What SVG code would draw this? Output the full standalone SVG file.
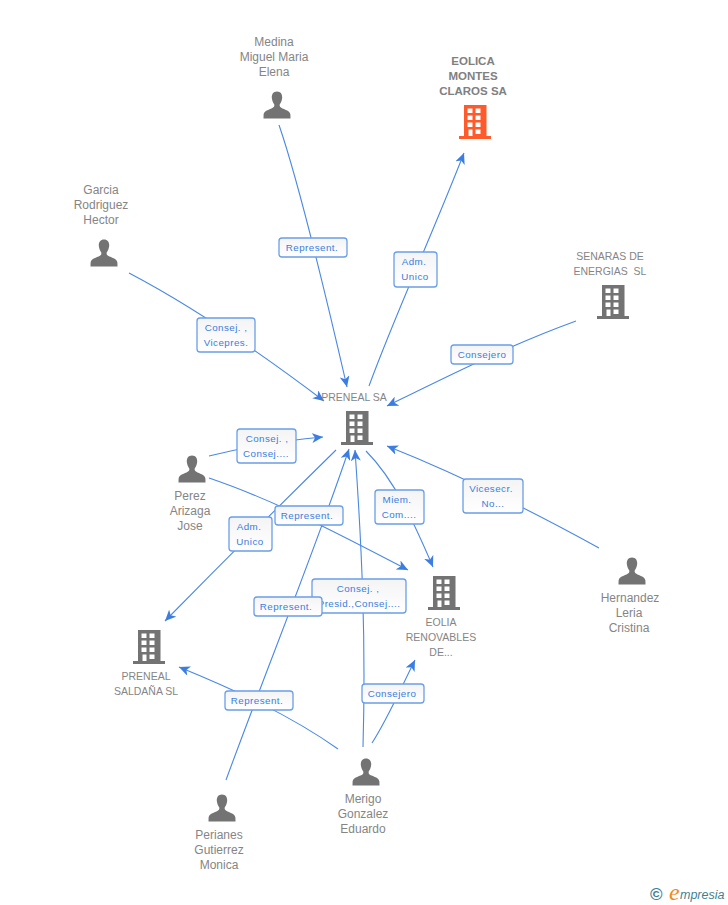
<svg xmlns="http://www.w3.org/2000/svg" width="728" height="905" viewBox="0 0 728 905">
<style>
text{font-family:"Liberation Sans",Arial,sans-serif}
.n{font-size:12px;fill:#858585;text-anchor:middle}
.b{font-weight:bold;fill:#808080;font-size:11.5px;text-anchor:middle}
.s{font-size:10.5px;fill:#858585;text-anchor:middle}
.l{font-size:9.8px;fill:#3b7de0;text-anchor:middle;letter-spacing:.45px}
.r{fill:url(#g);stroke:#6a9fe8;stroke-width:1.3}
.c{fill:none;stroke:#4a88e4;stroke-width:1.1}
</style>
<defs>
<linearGradient id="g" x1="0" y1="0" x2="0" y2="1"><stop offset="0" stop-color="#f4f4f4"/><stop offset="1" stop-color="#fff"/></linearGradient>
<marker id="a" viewBox="0 0 12 10" refX="11" refY="5" markerWidth="12" markerHeight="10" markerUnits="userSpaceOnUse" orient="auto"><path d="M0 0L11 5L0 10L3 5Z" fill="#3b7de0"/></marker>
<symbol id="p" width="28" height="28" viewBox="0 0 28 28" overflow="visible"><path d="M14 0.5C10.3 0.5 8.6 3.4 8.8 6.8C9 9.8 10.3 12 11.3 13.6C11.6 15.6 11 16.4 8.5 17.5C4.5 19.2 1.3 19.8 0.6 23.5L0.5 27.500H27.500L27.400 23.500C26.700 19.800 23.500 19.200 19.500 17.500C17 16.400 16.400 15.600 16.700 13.600C17.700 12 19 9.800 19.200 6.800C19.400 3.400 17.700 0.500 14 0.500Z" fill="#737373"/></symbol>
<symbol id="h" width="32" height="34" viewBox="0 0 32 34" overflow="visible"><path d="M5 0H27.500V31H32V34H0V31H5ZM8.500 3.500V8H13.500V3.500ZM16.500 3.500V8H21.500V3.500ZM8.500 10.500V15H13.500V10.500ZM16.500 10.500V15H21.500V10.500ZM8.500 17.500V22H13.500V17.500ZM16.500 17.500V22H21.500V17.500ZM9.500 24.500V31H13.500V24.500ZM16.500 24.500V29H21.500V24.500Z" fill="currentColor" fill-rule="evenodd"/></symbol>
</defs>
<g id="connectors">
<path class="c" d="M279 125C298 180 320 270 347 387" marker-end="url(#a)"/>
<path class="c" d="M369 386C395 315 430 240 464 153" marker-end="url(#a)"/>
<path class="c" d="M129 273C190 305 250 345 324 401" marker-end="url(#a)"/>
<path class="c" d="M576 321C510 345 450 375 387 406" marker-end="url(#a)"/>
<path class="c" d="M209 456C245 447 280 441 323 437" marker-end="url(#a)"/>
<path class="c" d="M209 478C280 502 350 540 408 570" marker-end="url(#a)"/>
<path class="c" d="M336 450C280 505 220 565 165 621" marker-end="url(#a)"/>
<path class="c" d="M226 780C270 660 315 550 349 449" marker-end="url(#a)"/>
<path class="c" d="M363 747C366 640 362 550 355 450" marker-end="url(#a)"/>
<path class="c" d="M366 451C395 480 415 525 433 567" marker-end="url(#a)"/>
<path class="c" d="M599 548C530 510 460 475 387 446" marker-end="url(#a)"/>
<path class="c" d="M338 749C290 715 235 690 179 667" marker-end="url(#a)"/>
<path class="c" d="M372 743C387 720 400 690 415 660" marker-end="url(#a)"/>
</g>
<g id="edge-labels">
<g><rect class="r" x="279" y="238" width="68" height="19" rx="3"/><text class="l" x="312" y="251">Represent.</text></g>
<g><rect class="r" x="394" y="252" width="43" height="35" rx="3"/><text class="l" x="414" y="265">Adm.</text><text class="l" x="415" y="280">Unico</text></g>
<g><rect class="r" x="197" y="318" width="58" height="34" rx="3"/><text class="l" x="226" y="331">Consej. ,</text><text class="l" x="226" y="346">Vicepres.</text></g>
<g><rect class="r" x="451" y="345" width="62" height="19" rx="3"/><text class="l" x="482" y="358">Consejero</text></g>
<g><rect class="r" x="237" y="429" width="59" height="34" rx="3"/><text class="l" x="267" y="442">Consej. ,</text><text class="l" x="266" y="457">Consej....</text></g>
<g><rect class="r" x="275" y="506" width="68" height="19" rx="3"/><text class="l" x="307" y="519">Represent.</text></g>
<g><rect class="r" x="229" y="517" width="43" height="34" rx="3"/><text class="l" x="249" y="530">Adm.</text><text class="l" x="250" y="545">Unico</text></g>
<g><rect class="r" x="375" y="490" width="49" height="34" rx="3"/><text class="l" x="397" y="503">Miem.</text><text class="l" x="399" y="518">Com....</text></g>
<g><rect class="r" x="463" y="479" width="60" height="34" rx="3"/><text class="l" x="491" y="492">Vicesecr.</text><text class="l" x="493" y="507">No...</text></g>
<g><rect class="r" x="312" y="579" width="94" height="34" rx="3"/><text class="l" x="358" y="592">Consej. ,</text><text class="l" x="359" y="607">Presid.,Consej....</text></g>
<g><rect class="r" x="254" y="597" width="68" height="19" rx="3"/><text class="l" x="286" y="610">Represent.</text></g>
<g><rect class="r" x="225" y="691" width="68" height="19" rx="3"/><text class="l" x="257" y="704">Represent.</text></g>
<g><rect class="r" x="362" y="684" width="62" height="19" rx="3"/><text class="l" x="392" y="697">Consejero</text></g>
</g>
<g id="n-medina"><text class="n" x="274" y="46">Medina</text><text class="n" x="274" y="61">Miguel Maria</text><text class="n" x="274" y="76">Elena</text><use href="#p" x="263" y="91"/></g>
<g id="n-eolica"><text class="b" x="473" y="65">EOLICA</text><text class="b" x="473" y="80">MONTES</text><text class="b" x="473" y="95">CLAROS SA</text><use href="#h" x="459" y="105" color="#ff5a2b"/></g>
<g id="n-garcia"><text class="n" x="101" y="194">Garcia</text><text class="n" x="101" y="209">Rodriguez</text><text class="n" x="101" y="224">Hector</text><use href="#p" x="90" y="239"/></g>
<g id="n-senaras"><text class="s" x="610" y="260">SENARAS DE</text><text class="s" x="610" y="275" xml:space="preserve">ENERGIAS  SL</text><use href="#h" x="597" y="285" color="#737373"/></g>
<g id="n-preneal"><text class="s" x="354" y="401">PRENEAL SA</text><use href="#h" x="341" y="411" color="#737373"/></g>
<g id="n-perez"><use href="#p" x="178" y="455"/><text class="n" x="190" y="500">Perez</text><text class="n" x="190" y="515">Arizaga</text><text class="n" x="190" y="530">Jose</text></g>
<g id="n-hernandez"><use href="#p" x="618" y="557"/><text class="n" x="630" y="602">Hernandez</text><text class="n" x="629" y="617">Leria</text><text class="n" x="629" y="632">Cristina</text></g>
<g id="n-eolia"><use href="#h" x="428" y="576" color="#737373"/><text class="s" x="441" y="626">EOLIA</text><text class="s" x="441" y="641">RENOVABLES</text><text class="s" x="441" y="656">DE...</text></g>
<g id="n-saldana"><use href="#h" x="133" y="630" color="#737373"/><text class="s" x="146" y="680">PRENEAL</text><text class="s" x="146" y="695">SALDAÑA SL</text></g>
<g id="n-merigo"><use href="#p" x="352" y="758"/><text class="n" x="363" y="803">Merigo</text><text class="n" x="363" y="818">Gonzalez</text><text class="n" x="363" y="833">Eduardo</text></g>
<g id="n-perianes"><use href="#p" x="208" y="794"/><text class="n" x="219" y="839">Perianes</text><text class="n" x="219" y="854">Gutierrez</text><text class="n" x="219" y="869">Monica</text></g>
<g id="watermark"><text x="650" y="900" font-size="17" font-weight="bold" fill="#3f7f94">©</text><text x="669" y="900" font-size="24" font-style="italic" fill="#f08a1d" style="font-family:'Liberation Serif',serif">e</text><text x="680" y="899" font-size="12.500" font-style="italic" fill="#3f7f94">mpresia</text></g>
</svg>
